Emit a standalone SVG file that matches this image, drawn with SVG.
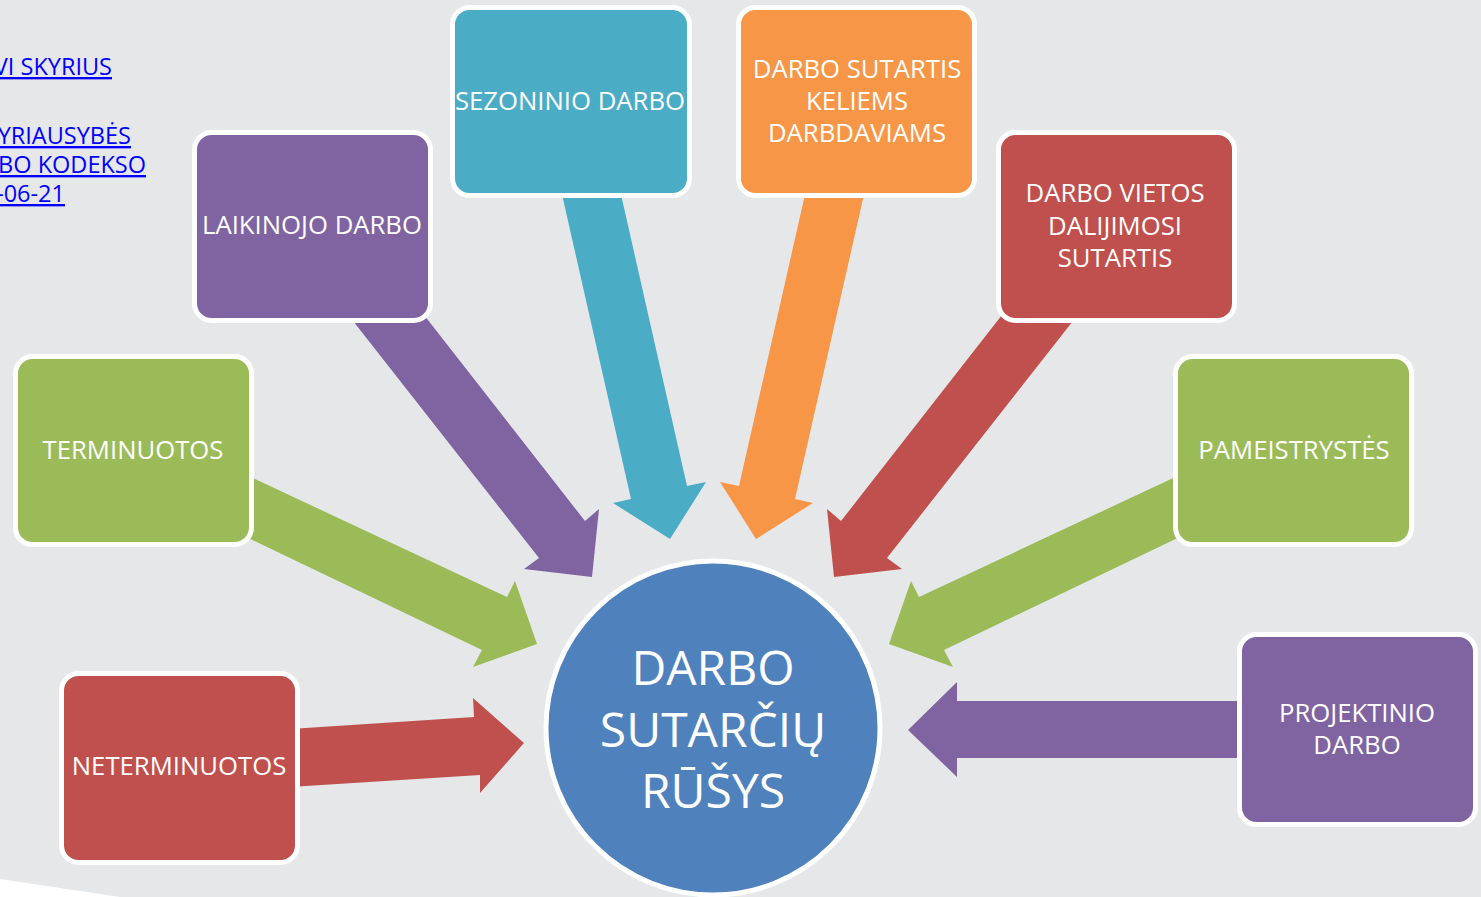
<svg xmlns="http://www.w3.org/2000/svg" width="1481" height="897" viewBox="0 0 1481 897">
<style>
.box{stroke:#FFFFFF;stroke-width:5}
.lbl{font-family:"Open Sans","Liberation Sans",sans-serif;font-size:25.7px;fill:#FFFFFF;text-anchor:middle}
.big{font-family:"Open Sans","Liberation Sans",sans-serif;font-size:48px;fill:#FFFFFF;text-anchor:middle}
.link{font-family:"Open Sans","Liberation Sans",sans-serif;font-size:23.5px;fill:#0000FF;text-anchor:end;text-decoration:underline}
.purple{fill:#8064A2}.red{fill:#C0504D}.green{fill:#9BBB59}.cyan{fill:#4BACC6}.orange{fill:#F79646}
</style>
<rect x="0" y="0" width="1481" height="897" fill="#E6E7E9"/>
<polygon points="0,879 120,897 0,897" fill="#FFFFFF"/>
<g id="links">
<text class="link" x="112" y="75">VI SKYRIUS</text>
<text class="link" x="131" y="144">YRIAUSYBĖS</text>
<text class="link" x="146" y="173">BO KODEKSO</text>
<text class="link" x="65" y="202">-06-21</text>
</g>
<g id="connectors">
<polygon class="red" points="290,729 474,717 473,698 524,743 480,793 480,775 290,787"/>
<polygon class="purple" points="1250,701 957,701 957,682 908,730 957,777 957,758 1250,758"/>
<polygon class="green" points="240,472 507,597 515,581 537,644 473,667 482,650 240,534"/>
<polygon class="green" points="1186,472 919,597 911,581 889,644 953,667 944,650 1186,534"/>
<polygon class="purple" points="346,312 417,306 585,521 599,509 592,577 524,569 539,558"/>
<polygon class="red" points="1080,312 1009,306 841,521 827,509 834,577 902,569 887,558"/>
<polygon class="cyan" points="561,190 620,190 687,486 706,482 670,539 613,503 631,499"/>
<polygon class="orange" points="865,190 806,190 739,486 720,482 756,539 813,503 795,499"/>
</g>
<g id="node-sezoninio">
<rect class="box cyan" x="452.5" y="7.5" width="237" height="188" rx="17"/>
<text class="lbl" x="570" y="110">SEZONINIO DARBO</text>
</g>
<g id="node-keliems">
<rect class="box orange" x="738.5" y="7.5" width="236" height="188" rx="17"/>
<text class="lbl" x="857" y="78">DARBO SUTARTIS</text>
<text class="lbl" x="857" y="110">KELIEMS</text>
<text class="lbl" x="857" y="142">DARBDAVIAMS</text>
</g>
<g id="node-laikinojo">
<rect class="box purple" x="194.5" y="132.5" width="236" height="188" rx="17"/>
<text class="lbl" x="312" y="234">LAIKINOJO DARBO</text>
</g>
<g id="node-dalijimosi">
<rect class="box red" x="998.5" y="132.5" width="236" height="188" rx="17"/>
<text class="lbl" x="1115" y="202">DARBO VIETOS</text>
<text class="lbl" x="1115" y="235">DALIJIMOSI</text>
<text class="lbl" x="1115" y="267">SUTARTIS</text>
</g>
<g id="node-terminuotos">
<rect class="box green" x="15.5" y="356.5" width="236" height="188" rx="17"/>
<text class="lbl" x="133" y="459">TERMINUOTOS</text>
</g>
<g id="node-pameistrystes">
<rect class="box green" x="1175.5" y="356.5" width="236" height="188" rx="17"/>
<text class="lbl" x="1294" y="459">PAMEISTRYSTĖS</text>
</g>
<g id="node-neterminuotos">
<rect class="box red" x="61.5" y="673.5" width="236" height="189" rx="17"/>
<text class="lbl" x="179" y="775">NETERMINUOTOS</text>
</g>
<g id="node-projektinio">
<rect class="box purple" x="1239.5" y="634.5" width="236" height="190" rx="17"/>
<text class="lbl" x="1357" y="722">PROJEKTINIO</text>
<text class="lbl" x="1357" y="754">DARBO</text>
</g>
<g id="node-center">
<circle class="box" cx="713" cy="728" r="167" fill="#4F81BD"/>
<text class="big" x="713" y="685">DARBO</text>
<text class="big" x="713" y="747">SUTARČIŲ</text>
<text class="big" x="713" y="808">RŪŠYS</text>
</g>
</svg>
